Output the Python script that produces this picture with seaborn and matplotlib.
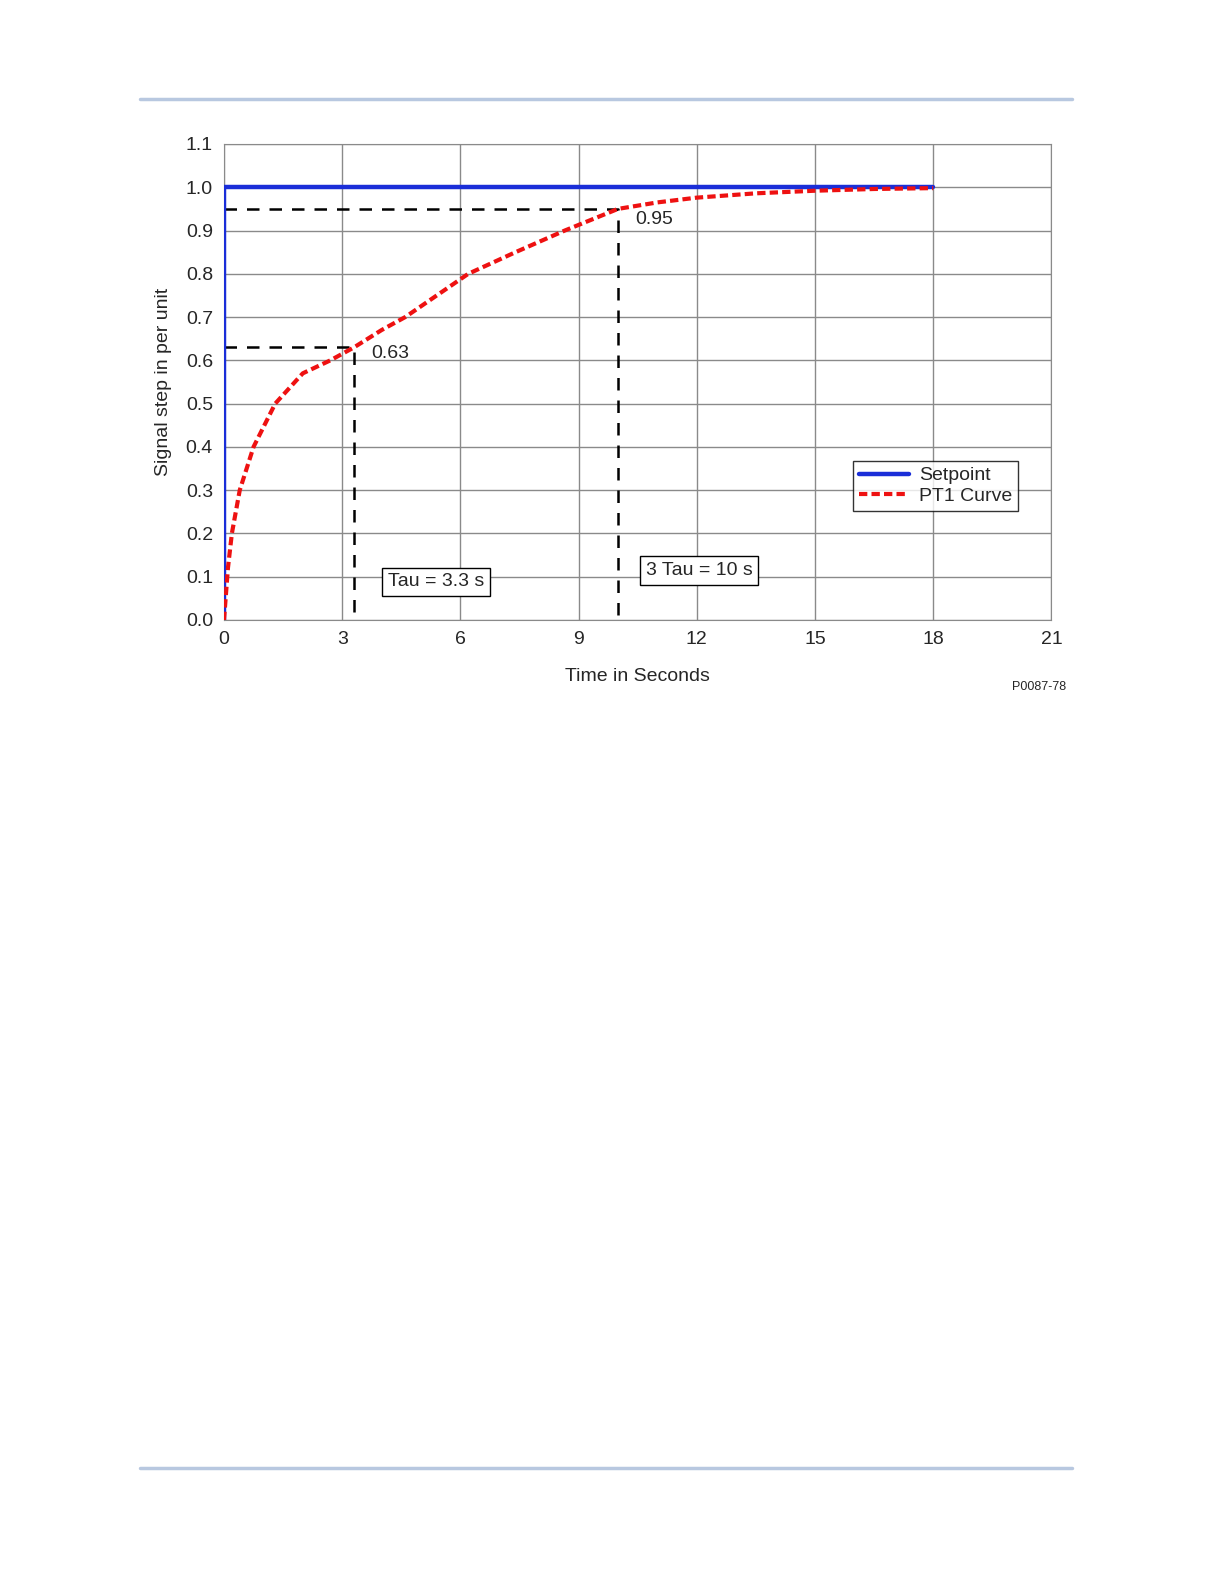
import matplotlib
matplotlib.use("Agg")
import matplotlib.pyplot as plt
import seaborn as sns
import pandas as pd

# data
setpoint_t = [0, 0, 18]
setpoint_y = [0, 1.0, 1.0]
pt1_t = [0, 0.1, 0.2, 0.4, 0.75, 1.3, 2.0, 2.7, 3.3, 4.0, 4.6, 5.4, 6.2, 7.4, 8.65, 10.0, 11.0, 12.0, 13.5, 15.0, 16.5, 18.0]
pt1_y = [0, 0.12, 0.2, 0.3, 0.4, 0.5, 0.57, 0.6, 0.63, 0.67, 0.7, 0.75, 0.8, 0.85, 0.9, 0.95, 0.965, 0.976, 0.986, 0.992, 0.996, 0.998]
tau, tau_y = 3.3, 0.63
tau3, tau3_y = 10.0, 0.95

sns.set_style("white")
plt.rcParams["font.family"] = ["Liberation Sans", "DejaVu Sans"]

fig = plt.figure(figsize=(12.24, 15.84), dpi=100)
ax = fig.add_axes([0.183, 0.6086, 0.676, 0.3005])

# page header/footer rules
for yy in [1 - 99 / 1584, 1 - 1468 / 1584]:
    fig.add_artist(plt.Line2D([140 / 1224, 1072 / 1224], [yy, yy], color="#b8c8e0", lw=2.5))

sp = pd.DataFrame({"t": setpoint_t, "y": setpoint_y})
pt = pd.DataFrame({"t": pt1_t, "y": pt1_y})
ax.plot(sp["t"], sp["y"], color="#1a2ed8", lw=3.2, label="Setpoint", zorder=4)
sns.lineplot(data=pt, x="t", y="y", ax=ax, color="#ee1111", lw=3, ls=(0, (2, 1)),
             label="PT1 Curve", sort=False, zorder=5)

# tau guides
ax.plot([0, tau, tau], [tau_y, tau_y, 0], color="black", ls=(0, (5, 4)), lw=1.8, zorder=3)
ax.plot([0, tau3, tau3], [tau3_y, tau3_y, 0], color="black", ls=(0, (5, 4)), lw=1.8, zorder=3)
ax.text(3.75, 0.615, "0.63", fontsize=14, va="center")
ax.text(10.45, 0.925, "0.95", fontsize=14, va="center")
box = dict(boxstyle="square,pad=0.3", fc="white", ec="black", lw=1)
ax.text(4.15, 0.088, "Tau = 3.3 s", fontsize=14, va="center", bbox=box)
ax.text(10.7, 0.115, "3 Tau = 10 s", fontsize=14, va="center", bbox=box)

ax.set_xlim(0, 21)
ax.set_ylim(0, 1.1)
ax.set_xticks(range(0, 22, 3))
ax.set_yticks([i / 10 for i in range(12)])
ax.set_yticklabels([f"{i / 10:.1f}" for i in range(12)])
ax.tick_params(labelsize=14, length=0, pad=8)
ax.grid(True, color="#8a8a8a", lw=1)
for s in ax.spines.values():
    s.set_color("#8a8a8a")
ax.set_xlabel("Time in Seconds", fontsize=14, labelpad=14)
ax.set_ylabel("Signal step in per unit", fontsize=14, labelpad=10)

leg = ax.legend(loc="upper left", bbox_to_anchor=(0.76, 0.334), fontsize=14, frameon=True,
                fancybox=False, handlelength=2.6, borderpad=0.3, labelspacing=0.15,
                handletextpad=0.5, borderaxespad=0)
leg.get_frame().set_edgecolor("black")
leg.get_frame().set_linewidth(1)

fig.text(1066 / 1224, 1 - 687 / 1584, "P0087-78", fontsize=9, ha="right", va="center")

fig.savefig("out.png", dpi=100)
